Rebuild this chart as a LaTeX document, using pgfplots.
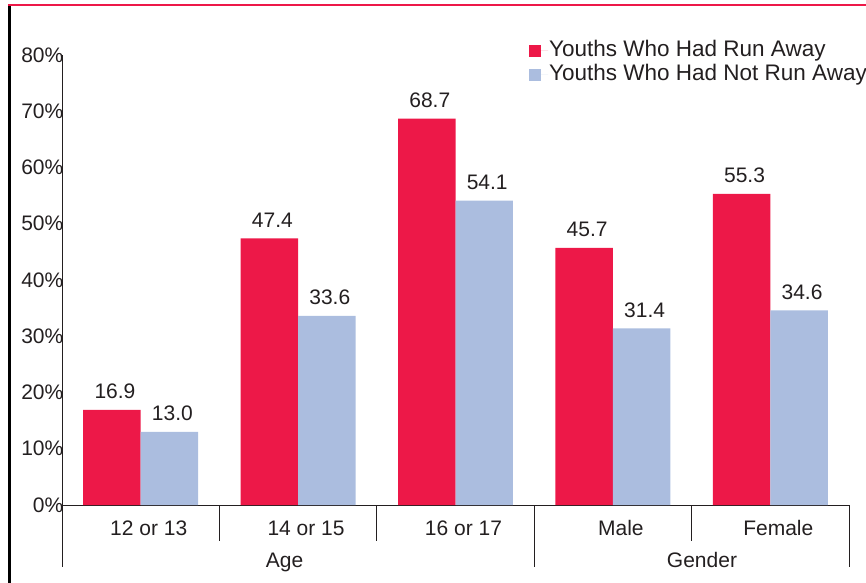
\documentclass[border=0pt]{standalone}
\usepackage{pgfplots}
\pgfplotsset{compat=1.18}
\usepackage{fontspec}
\setmainfont{Liberation Sans}
\definecolor{runred}{RGB}{237,24,72}
\definecolor{notblue}{RGB}{171,189,223}
\definecolor{txt}{RGB}{35,31,32}
\begin{document}
\begin{tikzpicture}[font=\fontsize{21bp}{25bp}\selectfont, every node/.style={text=txt}]
\begin{axis}[
  at={(62bp,78bp)}, anchor=south west,
  scale only axis, width=787bp, height=450bp,
  clip=false,
  xmin=-0.5, xmax=4.5, ymin=0, ymax=80,
  axis x line*=bottom, axis y line*=left,
  axis line style={draw=txt, line width=0.8bp},
  ytick={0,10,...,80},
  yticklabels={0\%,10\%,20\%,30\%,40\%,50\%,60\%,70\%,80\%},
  yticklabel style={anchor=east, inner sep=0pt, xshift=1.5bp},
  xtick={0,1,2,3,4},
  xticklabels={12 or 13,14 or 15,16 or 17,Male,Female},
  xticklabel style={anchor=base, inner sep=0pt, yshift=-30bp, xshift=8bp},
  major tick length=0pt,
  ybar=0pt, bar width=0.365,
  nodes near coords,
  every node near coord/.append style={anchor=base, yshift=11bp, xshift=3bp, inner sep=0pt},
  /pgf/number format/.cd, fixed, fixed zerofill, precision=1, assume math mode=true,
  /pgfplots/.cd,
  legend style={at={(0.5934,1.0333)}, anchor=north west, draw=none, fill=none, inner sep=0pt,
    row sep=3bp, font=\fontsize{22.5bp}{26bp}\selectfont,
    nodes={inner sep=1bp, text height=15bp, text depth=4bp, text=txt}},
  legend cell align=left,
  legend image code/.code={\fill[#1] (0bp,-6bp) rectangle (12bp,6bp); \path (0bp,0bp) -- (19bp,0bp);},
]
\addplot[fill=runred, draw=none] coordinates {(0,16.9) (1,47.4) (2,68.7) (3,45.7) (4,55.3)};
\addplot[fill=notblue, draw=none] coordinates {(0,13.0) (1,33.6) (2,54.1) (3,31.4) (4,34.6)};
\legend{Youths Who Had Run Away, Youths Who Had Not Run Away}
\draw[txt, line width=0.8bp] (axis cs:-0.5,0) -- ([yshift=-62bp]axis cs:-0.5,0);
\draw[txt, line width=0.8bp] (axis cs:0.5,0) -- ([yshift=-36bp]axis cs:0.5,0);
\draw[txt, line width=0.8bp] (axis cs:1.5,0) -- ([yshift=-36bp]axis cs:1.5,0);
\draw[txt, line width=0.8bp] (axis cs:2.5,0) -- ([yshift=-62bp]axis cs:2.5,0);
\draw[txt, line width=0.8bp] (axis cs:3.5,0) -- ([yshift=-36bp]axis cs:3.5,0);
\draw[txt, line width=0.8bp] (axis cs:4.5,0) -- ([yshift=-62bp]axis cs:4.5,0);
\node[anchor=base, inner sep=0pt] at ([yshift=-62bp]axis cs:0.914,0) {Age};
\node[anchor=base, inner sep=0pt] at ([yshift=-62bp]axis cs:3.566,0) {Gender};
\end{axis}
\draw[runred, line width=2.5bp] (9.5bp,0bp) -- (9.5bp,578bp) -- (870bp,578bp);
\draw[black, line width=3bp] (9.5bp,0bp) -- (9.5bp,576.5bp);
\pgfresetboundingbox
\useasboundingbox (0,0) rectangle (866bp,583bp);
\end{tikzpicture}
\end{document}
